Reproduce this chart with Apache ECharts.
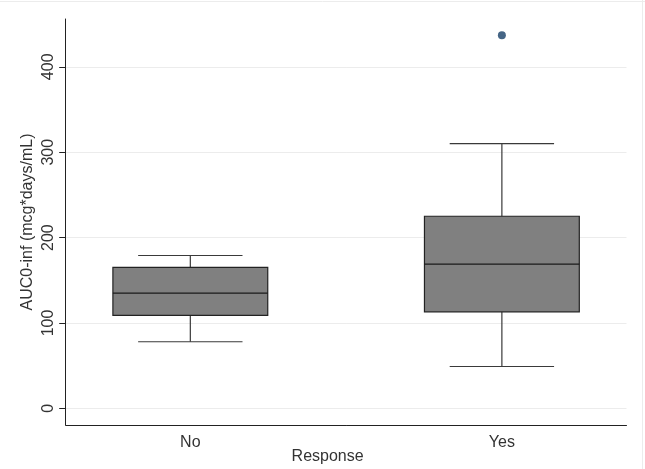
<!DOCTYPE html>
<html>
<head>
<meta charset="utf-8">
<script src="https://cdn.jsdelivr.net/npm/echarts@6/dist/echarts.min.js"></script>
<style>
html,body{margin:0;padding:0;background:#fff;}
#chart{width:645px;height:469px;}
</style>
</head>
<body>
<div id="chart"></div>
<script>
// Data
var categories = ['No', 'Yes'];
// [lower whisker, Q1, median, Q3, upper whisker]
var noBox = [78, 109, 135, 165, 179];
var yesBox = [49, 113, 169, 225, 310];
var outliers = [[1, 437]];
var yTicks = [0, 100, 200, 300, 400];
var xTicks = [0, 1];

var boxData = [[0].concat(noBox), [1].concat(yesBox)];

var chart = echarts.init(document.getElementById('chart'), null, {renderer: 'canvas'});
var font = '"Liberation Sans", Arial, sans-serif';

chart.setOption({
  backgroundColor: '#ffffff',
  animation: false,
  grid: {left: 65.7, right: 18.5, top: 19, bottom: 44, containLabel: false, outerBoundsMode: 'none'},
  xAxis: {
    type: 'value', min: -0.4, max: 1.4,
    name: 'Response', nameLocation: 'middle', nameGap: 24, nameMoveOverlap: false,
    nameTextStyle: {fontFamily: font, fontSize: 16, color: '#333', padding: [0, 37, 0, 0]},
    axisLine: {show: true, onZero: false, lineStyle: {color: '#222', width: 1}},
    axisTick: {show: false},
    splitLine: {show: false},
    axisLabel: {
      customValues: xTicks, margin: 10,
      fontFamily: font, fontSize: 16, color: '#333',
      formatter: function (v) { return categories[Math.round(v)]; }
    }
  },
  yAxis: {
    type: 'value', min: -19.5, max: 456,
    name: 'AUC0-inf (mcg*days/mL)', nameLocation: 'middle', nameGap: 30, nameMoveOverlap: false,
    nameTextStyle: {fontFamily: font, fontSize: 16, color: '#333'},
    axisLine: {show: true, onZero: false, lineStyle: {color: '#222', width: 1}},
    axisTick: {show: true, customValues: yTicks, length: 6.5, lineStyle: {color: '#222'}},
    axisLabel: {customValues: yTicks, rotate: 90, margin: 9, fontFamily: font, fontSize: 16, color: '#333'},
    splitLine: {show: true, lineStyle: {color: '#ececec', width: 1}}
  },
  series: [
    {
      type: 'custom',
      data: boxData,
      renderItem: function (params, api) {
        var x = api.value(0);
        var lo = api.coord([x, api.value(1)]);
        var q1 = api.coord([x, api.value(2)]);
        var md = api.coord([x, api.value(3)]);
        var q3 = api.coord([x, api.value(4)]);
        var hi = api.coord([x, api.value(5)]);
        var bw = api.size([0.497, 0])[0];
        var cw = api.size([0.335, 0])[0];
        var cx = lo[0];
        var lineStyle = {stroke: '#3a3a3a', lineWidth: 1.2};
        return {
          type: 'group',
          children: [
            {type: 'line', shape: {x1: cx, y1: hi[1], x2: cx, y2: q3[1]}, style: lineStyle},
            {type: 'line', shape: {x1: cx, y1: q1[1], x2: cx, y2: lo[1]}, style: lineStyle},
            {type: 'line', shape: {x1: cx - cw / 2, y1: hi[1], x2: cx + cw / 2, y2: hi[1]}, style: lineStyle},
            {type: 'line', shape: {x1: cx - cw / 2, y1: lo[1], x2: cx + cw / 2, y2: lo[1]}, style: lineStyle},
            {type: 'rect', shape: {x: cx - bw / 2, y: q3[1], width: bw, height: q1[1] - q3[1]},
              style: {fill: '#808080', stroke: '#222', lineWidth: 1.2}},
            {type: 'line', shape: {x1: cx - bw / 2, y1: md[1], x2: cx + bw / 2, y2: md[1]},
              style: {stroke: '#1a1a1a', lineWidth: 1.3}}
          ]
        };
      }
    },
    {
      type: 'scatter',
      data: outliers,
      symbol: 'circle',
      symbolSize: 8,
      itemStyle: {color: '#163f66'}
    }
  ],
  graphic: [
    {type: 'line', shape: {x1: 0, y1: 1.5, x2: 645, y2: 1.5}, style: {stroke: '#ececec', lineWidth: 1}},
    {type: 'line', shape: {x1: 642.5, y1: 0, x2: 642.5, y2: 469}, style: {stroke: '#ececec', lineWidth: 1}}
  ]
});
</script>
</body>
</html>
